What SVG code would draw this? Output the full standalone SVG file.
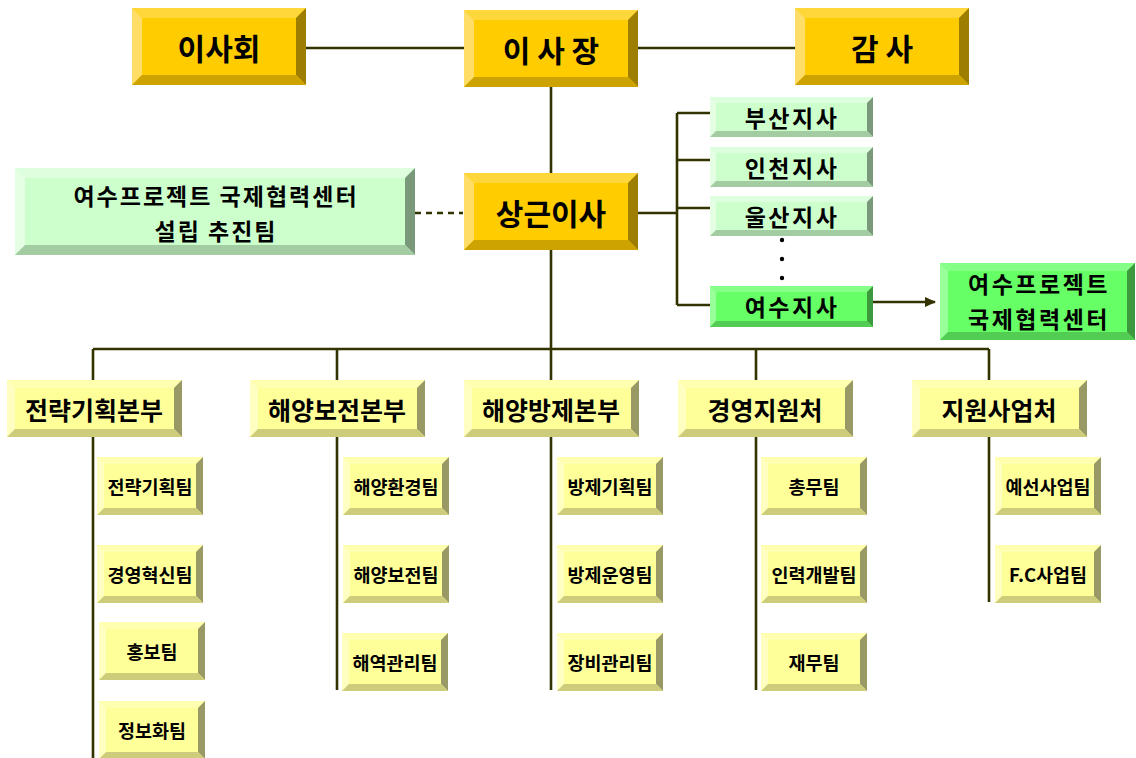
<svg xmlns="http://www.w3.org/2000/svg" xmlns:xlink="http://www.w3.org/1999/xlink" width="1136" height="758" viewBox="0 0 1136 758">
<style>
.ln{stroke:#333300;stroke-width:2.6;fill:none}
.dash{stroke-dasharray:6 5}
.t{font-family:"Noto Sans CJK KR","Noto Sans",sans-serif;font-weight:bold;fill:#000;text-anchor:middle;dominant-baseline:central}
.tb{font-size:30px}
.tm{font-size:23px;letter-spacing:2px}
.tc{font-size:23px;letter-spacing:2.5px}
.ts{font-size:23px;letter-spacing:2.5px}
.td{font-size:25px}
.tt{font-size:18.5px}
.gF{fill:#FFCC00}.gT{fill:#FFD73A}.gL{fill:#FFDD66}.gR{fill:#9E7E00}.gB{fill:#CCA300}
.mF{fill:#CCFFCC}.mT{fill:#DDFFDD}.mL{fill:#E4FFE4}.mR{fill:#7A997A}.mB{fill:#A3CCA3}
.eF{fill:#66FF66}.eT{fill:#85FF85}.eL{fill:#99FF99}.eR{fill:#3D993D}.eB{fill:#52CC52}
.yF{fill:#FFFF99}.yT{fill:#FFFFB0}.yL{fill:#FFFFC2}.yR{fill:#999966}.yB{fill:#CCCC7A}
</style>
<defs>
<marker id="arr" markerWidth="12" markerHeight="10" refX="10" refY="5" orient="auto" markerUnits="userSpaceOnUse">
<path d="M0,0 L11,5 L0,10 Z" fill="#333300"/>
</marker>
<g id="boxGold">
<rect class="gF" x="0" y="0" width="174" height="77"/>
<polygon class="gT" points="0,0 174,0 164,10 10,10"/>
<polygon class="gL" points="0,0 10,10 10,67 0,77"/>
<polygon class="gR" points="174,0 174,77 164,67 164,10"/>
<polygon class="gB" points="0,77 174,77 164,67 10,67"/>
</g>
<g id="boxMintL">
<rect class="mF" x="0" y="0" width="400" height="87"/>
<polygon class="mT" points="0,0 400,0 390,10 10,10"/>
<polygon class="mL" points="0,0 10,10 10,77 0,87"/>
<polygon class="mR" points="400,0 400,87 390,77 390,10"/>
<polygon class="mB" points="0,87 400,87 390,77 10,77"/>
</g>
<g id="boxMintS">
<rect class="mF" x="0" y="0" width="163" height="40"/>
<polygon class="mT" points="0,0 163,0 157,6 6,6"/>
<polygon class="mL" points="0,0 6,6 6,34 0,40"/>
<polygon class="mR" points="163,0 163,40 157,34 157,6"/>
<polygon class="mB" points="0,40 163,40 157,34 6,34"/>
</g>
<g id="boxGreenS">
<rect class="eF" x="0" y="0" width="163" height="41"/>
<polygon class="eT" points="0,0 163,0 157,6 6,6"/>
<polygon class="eL" points="0,0 6,6 6,35 0,41"/>
<polygon class="eR" points="163,0 163,41 157,35 157,6"/>
<polygon class="eB" points="0,41 163,41 157,35 6,35"/>
</g>
<g id="boxGreenL">
<rect class="eF" x="0" y="0" width="195" height="77"/>
<polygon class="eT" points="0,0 195,0 187,8 8,8"/>
<polygon class="eL" points="0,0 8,8 8,69 0,77"/>
<polygon class="eR" points="195,0 195,77 187,69 187,8"/>
<polygon class="eB" points="0,77 195,77 187,69 8,69"/>
</g>
<g id="boxDept">
<rect class="yF" x="0" y="0" width="175" height="57"/>
<polygon class="yT" points="0,0 175,0 167,8 8,8"/>
<polygon class="yL" points="0,0 8,8 8,49 0,57"/>
<polygon class="yR" points="175,0 175,57 167,49 167,8"/>
<polygon class="yB" points="0,57 175,57 167,49 8,49"/>
</g>
<g id="boxTeam">
<rect class="yF" x="0" y="0" width="106" height="58"/>
<polygon class="yT" points="0,0 106,0 99,7 7,7"/>
<polygon class="yL" points="0,0 7,7 7,51 0,58"/>
<polygon class="yR" points="106,0 106,58 99,51 99,7"/>
<polygon class="yB" points="0,58 106,58 99,51 7,51"/>
</g>
</defs>
<rect x="0" y="0" width="1136" height="758" fill="#FFFFFF"/>
<g id="connectors">
<path class="ln" d="M306,48 H464 M638,48 H795 M551,87 V173"/>
<path class="ln dash" d="M415,213 H463"/>
<path class="ln" d="M638,213 H677 M677,113 V305 M677,113 H710 M677,160 H710 M677,208 H710 M677,305 H710"/>
<path class="ln" d="M873,302 H935" marker-end="url(#arr)"/>
<path class="ln" d="M551,250 V690 M93,349 H989 M93,349 V758 M337,349 V690 M756,349 V690 M989,349 V602"/>
<circle cx="782" cy="240" r="2.2" fill="#000"/>
<circle cx="782" cy="259" r="2.2" fill="#000"/>
<circle cx="782" cy="278" r="2.2" fill="#000"/>
</g>
<g id="n-board"><use xlink:href="#boxGold" x="132" y="8"/><text class="t tb" x="219" y="47">이사회</text></g>
<g id="n-chair"><use xlink:href="#boxGold" x="464" y="10"/><text class="t tb" x="551" y="49">이 사 장</text></g>
<g id="n-audit"><use xlink:href="#boxGold" x="795" y="8"/><text class="t tb" x="882" y="47">감 사</text></g>
<g id="n-exec"><use xlink:href="#boxGold" x="464" y="173"/><text class="t tb" x="551" y="212">상근이사</text></g>
<g id="n-taskforce"><use xlink:href="#boxMintL" x="15" y="168"/><text class="t tm" x="216" y="195">여수프로젝트 국제협력센터</text><text class="t tm" x="216" y="230">설립 추진팀</text></g>
<g id="n-busan"><use xlink:href="#boxMintS" x="710" y="97"/><text class="t ts" x="792" y="117">부산지사</text></g>
<g id="n-incheon"><use xlink:href="#boxMintS" x="710" y="147"/><text class="t ts" x="792" y="167">인천지사</text></g>
<g id="n-ulsan"><use xlink:href="#boxMintS" x="710" y="196"/><text class="t ts" x="792" y="216">울산지사</text></g>
<g id="n-yeosu"><use xlink:href="#boxGreenS" x="710" y="286"/><text class="t ts" x="792" y="306">여수지사</text></g>
<g id="n-center"><use xlink:href="#boxGreenL" x="940" y="263"/><text class="t tc" x="1039" y="283">여수프로젝트</text><text class="t tc" x="1039" y="318">국제협력센터</text></g>
<g id="n-d1"><use xlink:href="#boxDept" x="7" y="380"/><text class="t td" x="94" y="409">전략기획본부</text></g>
<g id="n-d2"><use xlink:href="#boxDept" x="250" y="380"/><text class="t td" x="337" y="409">해양보전본부</text></g>
<g id="n-d3"><use xlink:href="#boxDept" x="464" y="380"/><text class="t td" x="551" y="409">해양방제본부</text></g>
<g id="n-d4"><use xlink:href="#boxDept" x="678" y="380"/><text class="t td" x="765" y="409">경영지원처</text></g>
<g id="n-d5"><use xlink:href="#boxDept" x="912" y="380"/><text class="t td" x="999" y="409">지원사업처</text></g>
<g id="n-t11"><use xlink:href="#boxTeam" x="97" y="457"/><text class="t tt" x="150" y="486">전략기획팀</text></g>
<g id="n-t12"><use xlink:href="#boxTeam" x="97" y="545"/><text class="t tt" x="150" y="574">경영혁신팀</text></g>
<g id="n-t13"><use xlink:href="#boxTeam" x="99" y="622"/><text class="t tt" x="152" y="651">홍보팀</text></g>
<g id="n-t14"><use xlink:href="#boxTeam" x="99" y="701"/><text class="t tt" x="152" y="730">정보화팀</text></g>
<g id="n-t21"><use xlink:href="#boxTeam" x="343" y="457"/><text class="t tt" x="396" y="486">해양환경팀</text></g>
<g id="n-t22"><use xlink:href="#boxTeam" x="343" y="545"/><text class="t tt" x="396" y="574">해양보전팀</text></g>
<g id="n-t23"><use xlink:href="#boxTeam" x="342" y="633"/><text class="t tt" x="395" y="662">해역관리팀</text></g>
<g id="n-t31"><use xlink:href="#boxTeam" x="557" y="457"/><text class="t tt" x="610" y="486">방제기획팀</text></g>
<g id="n-t32"><use xlink:href="#boxTeam" x="557" y="545"/><text class="t tt" x="610" y="574">방제운영팀</text></g>
<g id="n-t33"><use xlink:href="#boxTeam" x="557" y="633"/><text class="t tt" x="610" y="662">장비관리팀</text></g>
<g id="n-t41"><use xlink:href="#boxTeam" x="761" y="457"/><text class="t tt" x="814" y="486">총무팀</text></g>
<g id="n-t42"><use xlink:href="#boxTeam" x="761" y="545"/><text class="t tt" x="814" y="574">인력개발팀</text></g>
<g id="n-t43"><use xlink:href="#boxTeam" x="761" y="633"/><text class="t tt" x="814" y="662">재무팀</text></g>
<g id="n-t51"><use xlink:href="#boxTeam" x="995" y="457"/><text class="t tt" x="1048" y="486">예선사업팀</text></g>
<g id="n-t52"><use xlink:href="#boxTeam" x="995" y="545"/><text class="t tt" x="1048" y="574">F.C사업팀</text></g>
</svg>
